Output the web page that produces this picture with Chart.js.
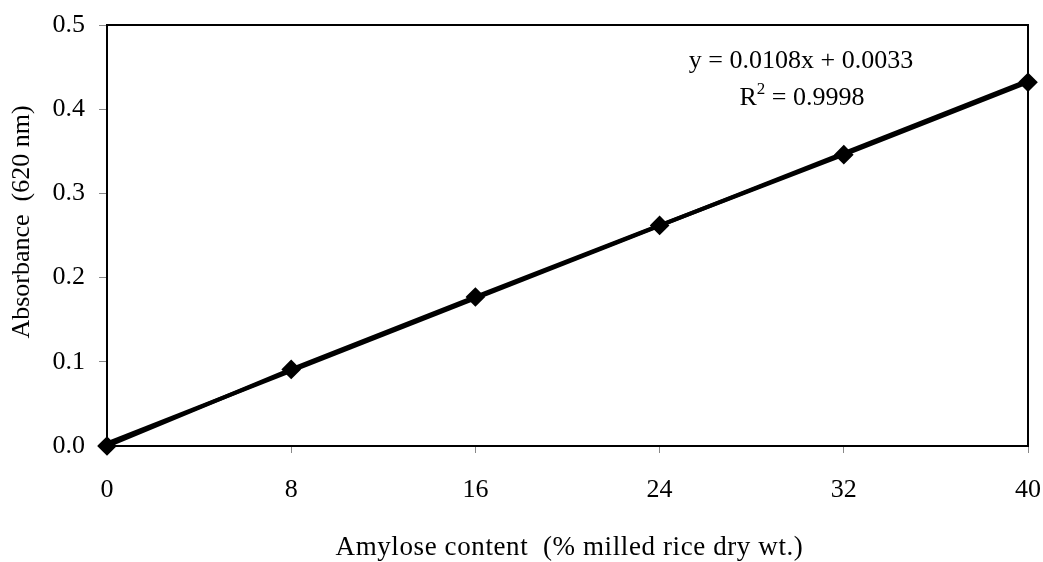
<!DOCTYPE html>
<html>
<head>
<meta charset="utf-8">
<script src="https://cdn.jsdelivr.net/npm/chart.js@4"></script>
<style>
  html, body { margin: 0; padding: 0; background: #fff; }
  #wrap { width: 1043px; height: 562px; }
</style>
</head>
<body>
<div id="wrap"><canvas id="amyloseChart" width="1043" height="562"></canvas></div>
<script>
// Dati
const amyloseContent = [0, 8, 16, 24, 32, 40];
const absorbance = [0.0, 0.091, 0.177, 0.262, 0.346, 0.432];
const trendX = [0, 40];
const trendY = [0.003, 0.434];
const xTicks = [0, 8, 16, 24, 32, 40];
const yTicks = [0.0, 0.1, 0.2, 0.3, 0.4, 0.5];
const equationText = 'y = 0.0108x + 0.0033';
const r2Text = ' = 0.9998';
const xTitle = 'Amylose content  (% milled rice dry wt.)';
const yTitle = 'Absorbance  (620 nm)';

const serif = "'Liberation Serif', 'Times New Roman', serif";

// Bordo dell'area del grafico, titoli degli assi ed equazione della retta
const boxAndLabel = {
    id: 'boxAndLabel',
    afterDraw(chart) {
        const { ctx, chartArea: a } = chart;
        ctx.save();
        ctx.strokeStyle = '#000';
        ctx.lineWidth = 2;
        ctx.strokeRect(a.left, a.top, a.right - a.left, a.bottom - a.top);

        ctx.fillStyle = '#000';
        ctx.textBaseline = 'middle';

        // titolo asse x
        ctx.font = '27px ' + serif;
        ctx.textAlign = 'center';
        ctx.letterSpacing = '0.6px';
        ctx.fillText(xTitle, (a.left + a.right) / 2 + 2, 548);
        ctx.letterSpacing = '0px';

        // titolo asse y
        ctx.save();
        ctx.translate(22, 222);
        ctx.rotate(-Math.PI / 2);
        ctx.font = '26px ' + serif;
        ctx.fillText(yTitle, 0, 0);
        ctx.restore();

        // equazione
        ctx.font = '26px ' + serif;
        ctx.textAlign = 'center';
        ctx.fillText(equationText, 801, 61);
        // R² con apice
        const wR = ctx.measureText('R').width;
        ctx.font = '17px ' + serif;
        const w2 = ctx.measureText('2').width;
        ctx.font = '26px ' + serif;
        const wRest = ctx.measureText(r2Text).width;
        const x = 802 - (wR + w2 + wRest) / 2;
        ctx.textAlign = 'left';
        ctx.fillText('R', x, 98);
        ctx.font = '17px ' + serif;
        ctx.fillText('2', x + wR, 90);
        ctx.font = '26px ' + serif;
        ctx.fillText(r2Text, x + wR + w2, 98);
        ctx.restore();
    }
};

const ctx = document.getElementById('amyloseChart').getContext('2d');
const myChart = new Chart(ctx, {
    type: 'scatter',
    data: {
        datasets: [{
            label: 'Trend',
            data: trendX.map((x, i) => ({ x: x, y: trendY[i] })),
            showLine: true,
            borderColor: '#000',
            borderWidth: 4,
            pointRadius: 0,
        }, {
            label: 'Absorbance',
            data: amyloseContent.map((x, i) => ({ x: x, y: absorbance[i] })),
            showLine: true,
            borderColor: '#000',
            backgroundColor: '#000',
            borderWidth: 4,
            pointStyle: 'rectRot',
            pointRadius: 7,
            clip: false,
        }],
    },
    options: {
        responsive: false,
        animation: false,
        layout: { padding: { left: 0, top: 25, right: 15, bottom: 0 } },
        plugins: {
            legend: { display: false },
            tooltip: { enabled: false },
        },
        scales: {
            x: {
                type: 'linear',
                min: 0,
                max: 40,
                afterBuildTicks: s => { s.ticks = xTicks.map(v => ({ value: v })); },
                afterFit: s => { s.height = 116; s.paddingLeft = 0; s.paddingRight = 0; },
                grid: { drawOnChartArea: false, tickLength: 7, color: '#888', tickWidth: 1 },
                border: { color: '#000', width: 2 },
                ticks: { color: '#000', font: { family: serif, size: 26 }, padding: 22, maxRotation: 0 },
            },
            y: {
                min: 0,
                max: 0.5,
                afterBuildTicks: s => { s.ticks = yTicks.map(v => ({ value: v })); },
                afterFit: s => { s.width = 107; s.paddingTop = 0; s.paddingBottom = 0; },
                grid: { drawOnChartArea: false, tickLength: 8, color: '#888', tickWidth: 1 },
                border: { color: '#000', width: 2 },
                ticks: {
                    color: '#000',
                    font: { family: serif, size: 26 },
                    padding: 14,
                    callback: v => v.toFixed(1),
                },
            },
        },
    },
    plugins: [boxAndLabel],
});
</script>
</body>
</html>
